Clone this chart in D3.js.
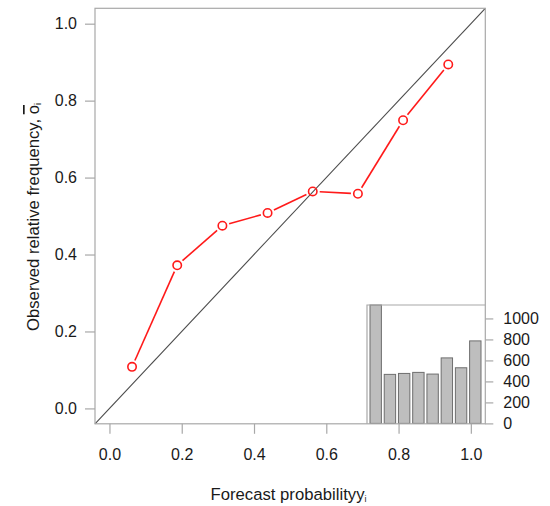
<!DOCTYPE html>
<html>
<head>
<meta charset="utf-8">
<script src="https://cdn.jsdelivr.net/npm/d3@7"></script>
<style>
  html, body { margin: 0; padding: 0; background: #fff; }
  svg { display: block; font-family: "Liberation Sans", Arial, Helvetica, sans-serif; }
</style>
</head>
<body>
<svg id="chart" width="550" height="506"></svg>
<script>
// Reliability diagram: observed relative frequency vs forecast probability
const binCenters = [0.0625, 0.1875, 0.3125, 0.4375, 0.5625, 0.6875, 0.8125, 0.9375];
const observedFreq = [0.108, 0.372, 0.475, 0.508, 0.564, 0.558, 0.749, 0.894];
const binCounts = [1128, 467, 476, 486, 470, 624, 530, 786];
const axisTicks = [0, 0.2, 0.4, 0.6, 0.8, 1.0];
const countTicks = [0, 200, 400, 600, 800, 1000];

const svg = d3.select("#chart");
const axisGrey = "#a8a8a8";
const textCol = "#1a1a1a";
const fontSize = 16;
const titleSize = 16.7;

// Main panel (R-style 4% padding around [0,1])
const x = d3.scaleLinear().domain([-0.04, 1.04]).range([95, 485.3]);
const y = d3.scaleLinear().domain([-0.04, 1.04]).range([423.8, 8.3]);

// perfect-reliability diagonal
svg.append("line")
  .attr("x1", x(-0.04)).attr("y1", y(-0.04))
  .attr("x2", x(1.04)).attr("y2", y(1.04))
  .attr("stroke", "#4a4a4a").attr("stroke-width", 1.1);

// Inset histogram of forecast counts
const insetLeft = 367, insetRight = x(1.04), insetTop = 305, insetBottom = y(-0.04);
const bx = d3.scaleBand().domain(d3.range(binCounts.length))
  .range([370, 481]).paddingInner(0.2).paddingOuter(0);
const by = d3.scaleLinear().domain([0, d3.max(binCounts)]).range([insetBottom - 0.4, insetTop]);

const inset = svg.append("g");
inset.append("rect")
  .attr("x", insetLeft).attr("y", insetTop)
  .attr("width", insetRight - insetLeft).attr("height", insetBottom - insetTop)
  .attr("fill", "#fff").attr("stroke", "none");
inset.selectAll("rect.bar").data(binCounts).join("rect")
  .attr("class", "bar")
  .attr("x", (d, i) => bx(i))
  .attr("y", d => by(d))
  .attr("width", bx.bandwidth())
  .attr("height", d => by(0) - by(d))
  .attr("fill", "#bebebe").attr("stroke", "#6e6e6e").attr("stroke-width", 1);
inset.append("path")
  .attr("d", `M${insetLeft},${insetBottom}V${insetTop}H${insetRight}`)
  .attr("fill", "none").attr("stroke", axisGrey).attr("stroke-width", 1.2);

// count axis on the right of the inset
const countAxis = d3.axisRight(by).tickValues(countTicks).tickFormat(d3.format("d"))
  .tickSize(8).tickPadding(10);
const cAx = svg.append("g").attr("transform", `translate(${insetRight},0)`).call(countAxis);
cAx.select(".domain").remove();

// Main frame
svg.append("rect")
  .attr("x", x(-0.04)).attr("y", y(1.04))
  .attr("width", x(1.04) - x(-0.04)).attr("height", y(-0.04) - y(1.04))
  .attr("fill", "none").attr("stroke", axisGrey).attr("stroke-width", 1.2);

const xAxis = d3.axisBottom(x).tickValues(axisTicks).tickFormat(d3.format(".1f")).tickSize(10).tickPadding(15);
const xAx = svg.append("g").attr("transform", `translate(0,${y(-0.04)})`).call(xAxis);
xAx.select(".domain").remove();

const yAxis = d3.axisLeft(y).tickValues(axisTicks).tickFormat(d3.format(".1f")).tickSize(10).tickPadding(8);
const yAx = svg.append("g").attr("transform", `translate(${x(-0.04)},0)`).call(yAxis);
yAx.select(".domain").remove();

svg.selectAll(".tick line").attr("stroke", axisGrey).attr("stroke-width", 1.2);
svg.selectAll(".tick text").attr("fill", textCol).style("font-size", fontSize + "px")
  .style("font-family", "'Liberation Sans', Arial, sans-serif");

// Observed frequencies: points joined with gapped segments
const pts = binCenters.map((c, i) => [x(c), y(observedFreq[i])]);
const gap = 7;
const segs = d3.pairs(pts).map(([a, b]) => {
  const dx = b[0] - a[0], dy = b[1] - a[1], L = Math.hypot(dx, dy);
  const ux = dx / L, uy = dy / L;
  return [a[0] + ux * gap, a[1] + uy * gap, b[0] - ux * gap, b[1] - uy * gap];
});
svg.selectAll("line.seg").data(segs).join("line")
  .attr("class", "seg")
  .attr("x1", d => d[0]).attr("y1", d => d[1])
  .attr("x2", d => d[2]).attr("y2", d => d[3])
  .attr("stroke", "#ff1a1a").attr("stroke-width", 1.6);
svg.selectAll("circle.pt").data(pts).join("circle")
  .attr("class", "pt")
  .attr("cx", d => d[0]).attr("cy", d => d[1]).attr("r", 4.2)
  .attr("fill", "none").attr("stroke", "#ff1a1a").attr("stroke-width", 1.6);

// Axis titles
const xt = svg.append("text")
  .attr("x", 288.5).attr("y", 499.5)
  .attr("text-anchor", "middle").attr("fill", textCol).style("font-size", titleSize + "px");
xt.append("tspan").text("Forecast probabilityy");
xt.append("tspan").attr("baseline-shift", "-25%").style("font-size", "9px").text("i");

const yt = svg.append("text")
  .attr("transform", `translate(39,217) rotate(-90)`)
  .attr("text-anchor", "middle").attr("fill", textCol).style("font-size", titleSize + "px");
yt.append("tspan").text("Observed relative frequency, ");
yt.append("tspan").style("text-decoration", "overline").text("o");
yt.append("tspan").attr("baseline-shift", "-25%").style("font-size", "9px").text("i");
</script>
</body>
</html>
